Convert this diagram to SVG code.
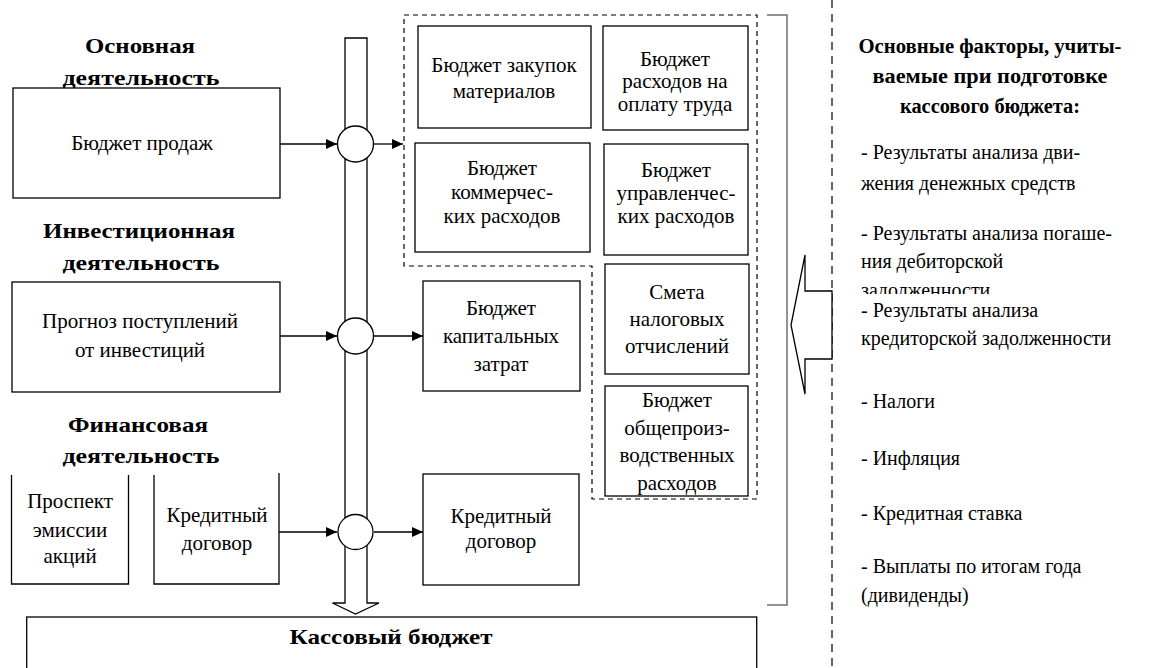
<svg xmlns="http://www.w3.org/2000/svg" width="1152" height="668" viewBox="0 0 1152 668">
<defs>
<marker id="ah" markerUnits="userSpaceOnUse" markerWidth="12" markerHeight="10" refX="11" refY="5" orient="auto">
<path d="M0,0 L11,5 L0,10 Z" fill="#000"/>
</marker>
<clipPath id="cut"><rect x="850" y="270" width="300" height="24"/></clipPath>
</defs>
<rect width="1152" height="668" fill="#fff"/>

<g id="headings">
<text font-family="Times New Roman" font-size="22" font-weight="bold" text-anchor="middle" x="140" y="53" textLength="110" lengthAdjust="spacingAndGlyphs">Основная</text>
<text font-family="Times New Roman" font-size="22" font-weight="bold" text-anchor="middle" x="141" y="85" textLength="157" lengthAdjust="spacingAndGlyphs">деятельность</text>
<text font-family="Times New Roman" font-size="22" font-weight="bold" text-anchor="middle" x="139" y="238" textLength="192" lengthAdjust="spacingAndGlyphs">Инвестиционная</text>
<text font-family="Times New Roman" font-size="22" font-weight="bold" text-anchor="middle" x="141" y="270" textLength="157" lengthAdjust="spacingAndGlyphs">деятельность</text>
<text font-family="Times New Roman" font-size="22" font-weight="bold" text-anchor="middle" x="138" y="432" textLength="140" lengthAdjust="spacingAndGlyphs">Финансовая</text>
<text font-family="Times New Roman" font-size="22" font-weight="bold" text-anchor="middle" x="141" y="463" textLength="157" lengthAdjust="spacingAndGlyphs">деятельность</text>
</g>

<g id="group-operating">
<path d="M404,15 H757 V499 H592 V266 H404 Z" fill="none" stroke="#000" stroke-width="1.2" stroke-dasharray="5 4"/>
</g>

<g id="bracket">
<path d="M767,15 H787 V605 H767" fill="none" stroke="#707070" stroke-width="1.5"/>
</g>

<g id="bus">
<path d="M345,38 H367 V603 H379 L355.5,614 L332.5,603 H345 Z" fill="#fff" stroke="#000" stroke-width="1.3"/>
</g>

<g id="sales">
<rect x="13" y="88" width="267" height="110" fill="#fff" stroke="#000" stroke-width="1.3"/>
<text font-family="Times New Roman" font-size="21" text-anchor="middle" x="142" y="150">Бюджет продаж</text>
</g>

<g id="invest-forecast">
<rect x="12" y="282" width="268" height="110" fill="#fff" stroke="#000" stroke-width="1.3"/>
<text font-family="Times New Roman" font-size="21" text-anchor="middle" x="140" y="328">Прогноз поступлений</text>
<text font-family="Times New Roman" font-size="21" text-anchor="middle" x="140" y="357">от инвестиций</text>
</g>

<g id="share-prospectus">
<path d="M11.5,475 V584 H128.5 V475" fill="none" stroke="#000" stroke-width="1.3"/>
<text font-family="Times New Roman" font-size="21" text-anchor="middle" x="70" y="508">Проспект</text>
<text font-family="Times New Roman" font-size="21" text-anchor="middle" x="70" y="537">эмиссии</text>
<text font-family="Times New Roman" font-size="21" text-anchor="middle" x="70" y="563">акций</text>
</g>

<g id="loan-agreement-in">
<path d="M154,475 V584 H279 V473" fill="none" stroke="#000" stroke-width="1.3"/>
<text font-family="Times New Roman" font-size="21" text-anchor="middle" x="217" y="522">Кредитный</text>
<text font-family="Times New Roman" font-size="21" text-anchor="middle" x="217" y="550">договор</text>
</g>

<g id="materials">
<rect x="418" y="26" width="173" height="102" fill="#fff" stroke="#000" stroke-width="1.3"/>
<text font-family="Times New Roman" font-size="21" text-anchor="middle" x="504" y="72">Бюджет закупок</text>
<text font-family="Times New Roman" font-size="21" text-anchor="middle" x="504" y="98">материалов</text>
</g>

<g id="labour">
<rect x="603" y="26" width="145" height="104" fill="#fff" stroke="#000" stroke-width="1.3"/>
<text font-family="Times New Roman" font-size="21" text-anchor="middle" x="675" y="66">Бюджет</text>
<text font-family="Times New Roman" font-size="21" text-anchor="middle" x="675" y="88">расходов на</text>
<text font-family="Times New Roman" font-size="21" text-anchor="middle" x="675" y="111">оплату труда</text>
</g>

<g id="commercial">
<rect x="415" y="143" width="175" height="109" fill="#fff" stroke="#000" stroke-width="1.3"/>
<text font-family="Times New Roman" font-size="21" text-anchor="middle" x="502" y="175">Бюджет</text>
<text font-family="Times New Roman" font-size="21" text-anchor="middle" x="502" y="199">коммерчес-</text>
<text font-family="Times New Roman" font-size="21" text-anchor="middle" x="502" y="223">ких расходов</text>
</g>

<g id="admin">
<rect x="604" y="144" width="144" height="111" fill="#fff" stroke="#000" stroke-width="1.3"/>
<text font-family="Times New Roman" font-size="21" text-anchor="middle" x="676" y="177">Бюджет</text>
<text font-family="Times New Roman" font-size="21" text-anchor="middle" x="676" y="200">управленчес-</text>
<text font-family="Times New Roman" font-size="21" text-anchor="middle" x="676" y="223">ких расходов</text>
</g>

<g id="tax">
<rect x="605" y="264" width="144" height="110" fill="#fff" stroke="#000" stroke-width="1.3"/>
<text font-family="Times New Roman" font-size="21" text-anchor="middle" x="677" y="299">Смета</text>
<text font-family="Times New Roman" font-size="21" text-anchor="middle" x="677" y="326">налоговых</text>
<text font-family="Times New Roman" font-size="21" text-anchor="middle" x="677" y="353">отчислений</text>
</g>

<g id="overhead">
<rect x="605" y="386" width="143" height="110" fill="#fff" stroke="#000" stroke-width="1.3"/>
<text font-family="Times New Roman" font-size="21" text-anchor="middle" x="677" y="407">Бюджет</text>
<text font-family="Times New Roman" font-size="21" text-anchor="middle" x="677" y="435">общепроиз-</text>
<text font-family="Times New Roman" font-size="21" text-anchor="middle" x="677" y="462">водственных</text>
<text font-family="Times New Roman" font-size="21" text-anchor="middle" x="677" y="490">расходов</text>
</g>

<g id="capex">
<rect x="423" y="281" width="157" height="110" fill="#fff" stroke="#000" stroke-width="1.3"/>
<text font-family="Times New Roman" font-size="21" text-anchor="middle" x="501" y="315">Бюджет</text>
<text font-family="Times New Roman" font-size="21" text-anchor="middle" x="501" y="343">капитальных</text>
<text font-family="Times New Roman" font-size="21" text-anchor="middle" x="501" y="371">затрат</text>
</g>

<g id="loan-agreement-out">
<rect x="423" y="474" width="156" height="111" fill="#fff" stroke="#000" stroke-width="1.3"/>
<text font-family="Times New Roman" font-size="21" text-anchor="middle" x="501" y="523">Кредитный</text>
<text font-family="Times New Roman" font-size="21" text-anchor="middle" x="501" y="548">договор</text>
</g>

<g id="cash-budget">
<rect x="26.7" y="617" width="730" height="70" fill="#fff" stroke="#000" stroke-width="1.3"/>
<text font-family="Times New Roman" x="391" y="644" font-size="22" font-weight="bold" text-anchor="middle" textLength="203" lengthAdjust="spacingAndGlyphs">Кассовый бюджет</text>
</g>

<g id="connectors" fill="none" stroke="#000" stroke-width="1.3">
<path d="M280,144 H337" marker-end="url(#ah)"/>
<path d="M374,144 H403" marker-end="url(#ah)"/>
<path d="M280,336 H337" marker-end="url(#ah)"/>
<path d="M374,336 H423" marker-end="url(#ah)"/>
<path d="M279,532 H337" marker-end="url(#ah)"/>
<path d="M374,532 H423" marker-end="url(#ah)"/>
</g>

<g id="junctions" fill="#fff" stroke="#000" stroke-width="1.3">
<circle cx="355.5" cy="144" r="18"/>
<circle cx="355.5" cy="336" r="18"/>
<circle cx="355.5" cy="532" r="17.5"/>
</g>

<g id="divider">
<line x1="832" y1="0" x2="832" y2="668" stroke="#000" stroke-width="1.2" stroke-dasharray="8 6"/>
</g>

<g id="factors-arrow">
<path d="M832,291 H805 V255 L791,325 L805,394 V359 H832 Z" fill="#fff" stroke="#000" stroke-width="1.3"/>
</g>

<g id="factors">
<text font-family="Times New Roman" font-size="20" font-weight="bold" text-anchor="middle" x="990" y="53" textLength="263" lengthAdjust="spacingAndGlyphs">Основные факторы, учиты-</text>
<text font-family="Times New Roman" font-size="20" font-weight="bold" text-anchor="middle" x="990" y="83" textLength="235" lengthAdjust="spacingAndGlyphs">ваемые при  подготовке</text>
<text font-family="Times New Roman" font-size="20" font-weight="bold" text-anchor="middle" x="990" y="113" textLength="180" lengthAdjust="spacingAndGlyphs">кассового бюджета:</text>
<text font-family="Times New Roman" font-size="20" x="861" y="159">- Результаты анализа дви-</text>
<text font-family="Times New Roman" font-size="20" x="861" y="190">жения денежных средств</text>
<text font-family="Times New Roman" font-size="20" x="861" y="240">- Результаты анализа погаше-</text>
<text font-family="Times New Roman" font-size="20" x="861" y="268">ния дебиторской</text>
<text font-family="Times New Roman" font-size="20" x="861" y="297" clip-path="url(#cut)">задолженности</text>
<text font-family="Times New Roman" font-size="20" x="861" y="317">- Результаты анализа</text>
<text font-family="Times New Roman" font-size="20" x="861" y="345">кредиторской задолженности</text>
<text font-family="Times New Roman" font-size="20" x="861" y="408">- Налоги</text>
<text font-family="Times New Roman" font-size="20" x="861" y="465">- Инфляция</text>
<text font-family="Times New Roman" font-size="20" x="861" y="520">- Кредитная ставка</text>
<text font-family="Times New Roman" font-size="20" x="861" y="573">- Выплаты по итогам года</text>
<text font-family="Times New Roman" font-size="20" x="861" y="602">(дивиденды)</text>
</g>
</svg>
